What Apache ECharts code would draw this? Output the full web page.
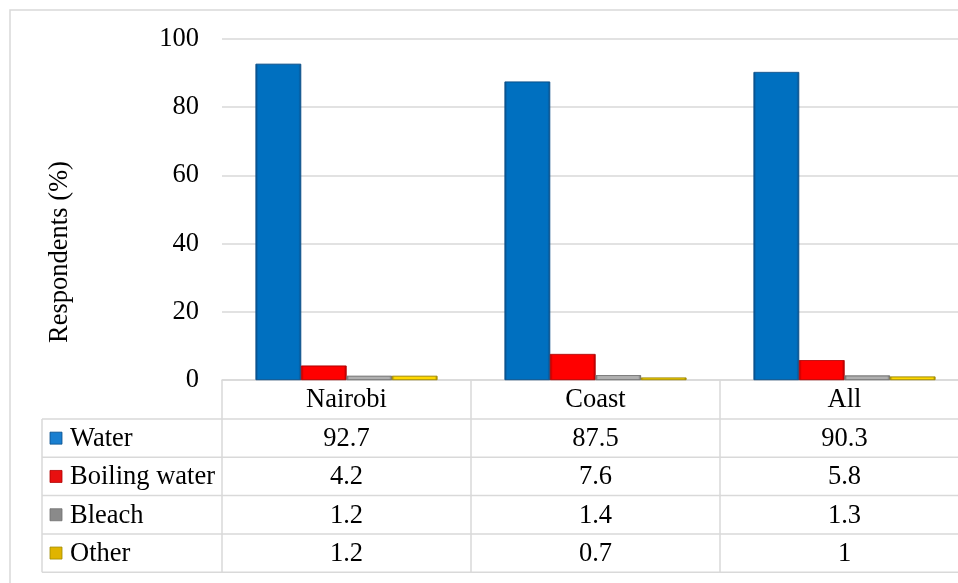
<!DOCTYPE html>
<html>
<head>
<meta charset="utf-8">
<script src="https://cdn.jsdelivr.net/npm/echarts@6/dist/echarts.min.js"></script>
<style>
  html, body { margin: 0; padding: 0; background: #fff; }
  #chart { width: 958px; height: 583px; }
</style>
</head>
<body>
<div id="chart"></div>
<script>
// data
const categories = ['Nairobi', 'Coast', 'All']
const seriesNames = ['Water', 'Boiling water', 'Bleach', 'Other']
const water = [92.7, 87.5, 90.3]
const boiling = [4.2, 7.6, 5.8]
const bleach = [1.2, 1.4, 1.3]
const other = [1.2, 0.7, 1]
const yTicks = [0, 20, 40, 60, 80, 100]

const values = [water, boiling, bleach, other]
const colors = ['#0070c0', '#ff0000', '#b0b0b0', '#ffd800']
const borders = ['#0a4f8a', '#b00000', '#6e6e6e', '#a08a00']
const iconColors = ['#1a7fd0', '#e81010', '#8a8a8a', '#e0b400']
const FONT = '"Liberation Serif", "Times New Roman", serif'
const FS = 26.5
const lineCol = '#d9d9d9'

const chart = echarts.init(document.getElementById('chart'))

const series = seriesNames.map((name, i) => ({
  name: name,
  type: 'bar',
  data: values[i],
  barGap: '0%',
  barCategoryGap: '27%',
  itemStyle: {
    color: {
      type: 'linear', x: 0, y: 0, x2: 1, y2: 0,
      colorStops: [
        { offset: 0, color: borders[i] },
        { offset: 0.06, color: colors[i] },
        { offset: 0.94, color: colors[i] },
        { offset: 1, color: borders[i] },
      ],
    },
    borderColor: borders[i],
    borderWidth: 0.6,
  },
}))

chart.setOption({
  animation: false,
  grid: { left: 222, top: 39, width: 747, height: 341, outerBoundsMode: 'none' },
  xAxis: {
    type: 'category',
    data: categories,
    axisLine: { lineStyle: { color: lineCol, width: 1.5 } },
    axisTick: { show: true, length: 39, lineStyle: { color: lineCol, width: 1.5 } },
    axisLabel: { color: '#000', fontFamily: FONT, fontSize: FS, margin: 7 },
  },
  yAxis: {
    type: 'value',
    min: yTicks[0],
    max: yTicks[yTicks.length - 1],
    interval: 20,
    axisLine: { show: false },
    axisTick: { show: false },
    axisLabel: { color: '#000', fontFamily: FONT, fontSize: FS, margin: 23 },
    splitLine: { lineStyle: { color: lineCol, width: 1.5 } },
  },
  series: series,
})

// data table under the plot
const xs = categories.map(c => chart.convertToPixel({ xAxisIndex: 0 }, c))
const step = xs[1] - xs[0]
const tableLeft = 42
const plotLeft = xs[0] - step / 2
const plotRight = xs[xs.length - 1] + step / 2
const rowTop = 419
const rowH = 38.3
const g = []

// outer border
g.push({ type: 'rect', shape: { x: 10, y: 10, width: 970, height: 590 },
  style: { fill: 'none', stroke: lineCol, lineWidth: 1.5 }, silent: true })

for (let r = 0; r <= seriesNames.length; r++) {
  const y = rowTop + r * rowH
  g.push({ type: 'line', shape: { x1: tableLeft, y1: y, x2: plotRight, y2: y },
    style: { stroke: lineCol, lineWidth: 1.5 } })
}
const vlines = [tableLeft, plotLeft].concat(xs.map(x => x + step / 2))
vlines.forEach(x => {
  g.push({ type: 'line', shape: { x1: x, y1: rowTop, x2: x, y2: rowTop + rowH * seriesNames.length },
    style: { stroke: lineCol, lineWidth: 1.5 } })
})

seriesNames.forEach((name, r) => {
  const cy = rowTop + r * rowH + rowH / 2
  g.push({ type: 'rect', shape: { x: 50, y: cy - 6, width: 12, height: 12 },
    style: { fill: iconColors[r], stroke: borders[r], lineWidth: 0.8 } })
  g.push({ type: 'text', x: 70, y: cy + 1,
    style: { text: name, font: FS + 'px ' + FONT, fill: '#000', align: 'left', verticalAlign: 'middle' } })
  xs.forEach((x, c) => {
    g.push({ type: 'text', x: x, y: cy + 1,
      style: { text: String(values[r][c]), font: FS + 'px ' + FONT, fill: '#000', align: 'center', verticalAlign: 'middle' } })
  })
})

// y axis title
g.push({ type: 'text', x: 60, y: 252, rotation: Math.PI / 2,
  style: { text: 'Respondents (%)', font: FS + 'px ' + FONT, fill: '#000', align: 'center', verticalAlign: 'middle' } })

chart.setOption({ graphic: g })
</script>
</body>
</html>
